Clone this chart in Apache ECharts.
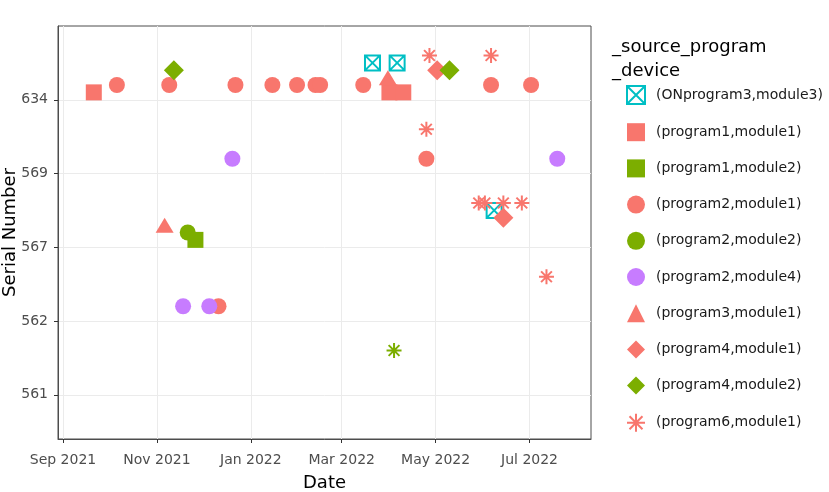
<!DOCTYPE html>
<html>
<head>
<meta charset="utf-8">
<script src="https://cdn.jsdelivr.net/npm/echarts@6/dist/echarts.min.js"></script>
<style>html,body{margin:0;padding:0;background:#fff;}#c{width:829px;height:492px;}</style>
</head>
<body>
<div id="c"></div>
<script>
// ---- data ----
const yTickValues = [0, 1, 2, 3, 4];
const yTickLabels = ['561', '562', '567', '569', '634'];
const xTickDates = ['2021-09-01', '2021-11-01', '2022-01-01', '2022-03-01', '2022-05-01', '2022-07-01'];
const xTickLabels = ['Sep 2021', 'Nov 2021', 'Jan 2022', 'Mar 2022', 'May 2022', 'Jul 2022'];

const seriesNames = [
  '(ONprogram3,module3)', '(program1,module1)', '(program1,module2)', '(program2,module1)',
  '(program2,module2)', '(program2,module4)', '(program3,module1)', '(program4,module1)',
  '(program4,module2)', '(program6,module1)', '(program6,module2)'
];

const onprogram3Module3 = [['2022-03-21', 4.5], ['2022-04-06', 4.5], ['2022-06-08', 2.5]];
const program1Module1 = [['2021-09-21', 4.1], ['2022-04-01', 4.1], ['2022-04-10', 4.1]];
const program1Module2 = [['2021-11-26', 2.1]];
const program2Module1 = [
  ['2021-10-06', 4.2], ['2021-11-09', 4.2], ['2021-12-22', 4.2], ['2022-01-15', 4.2],
  ['2022-01-31', 4.2], ['2022-02-12', 4.2], ['2022-02-15', 4.2], ['2022-03-15', 4.2],
  ['2022-06-06', 4.2], ['2022-07-02', 4.2], ['2022-04-25', 3.2], ['2021-12-11', 1.2]
];
const program2Module2 = [['2021-11-21', 2.2]];
const program2Module4 = [['2021-12-20', 3.2], ['2022-07-19', 3.2], ['2021-11-18', 1.2], ['2021-12-05', 1.2]];
const program3Module1 = [['2022-03-31', 4.3], ['2021-11-06', 2.3]];
const program4Module1 = [['2022-05-02', 4.4], ['2022-06-14', 2.4]];
const program4Module2 = [['2021-11-12', 4.4], ['2022-05-10', 4.4]];
const program6Module1 = [
  ['2022-04-27', 4.6], ['2022-06-06', 4.6], ['2022-04-25', 3.6], ['2022-05-29', 2.6],
  ['2022-06-02', 2.6], ['2022-06-14', 2.6], ['2022-06-26', 2.6], ['2022-07-12', 1.6]
];
const program6Module2 = [['2022-04-04', 0.6]];
const xRange = ['2021-08-28T18:00:00Z', '2022-08-09T22:00:00Z'];

// ---- helpers ----
function ts(s) { return new Date(s).getTime(); }
function toXY(arr) { return arr.map(function (p) { return [ts(p[0]), p[1]]; }); }
const xTickTs = xTickDates.map(ts);

// ---- styles ----
const SALMON = '#F8766D', GREEN = '#7CAE00', TEAL = '#00BFC4', PURPLE = '#C77CFF';
const xSquare = 'path://M-1,-1L1,-1L1,1L-1,1Z M-1,-1L1,1 M-1,1L1,-1';
const asterisk = 'path://M0,-1L0,1 M-1,0L1,0 M-0.72,-0.72L0.72,0.72 M-0.72,0.72L0.72,-0.72';

function mk(name, data, symbol, size, color, stroke) {
  return {
    name: name, type: 'scatter', data: toXY(data), symbol: symbol, symbolSize: size,
    symbolKeepAspect: true,
    itemStyle: stroke
      ? { color: 'rgba(0,0,0,0)', borderColor: color, borderWidth: stroke, opacity: 1 }
      : { color: color, opacity: 1 },
    emphasis: { disabled: true }
  };
}

const series = [
  mk(seriesNames[0], onprogram3Module3, xSquare, 15, TEAL, 2),
  mk(seriesNames[1], program1Module1, 'rect', 16, SALMON),
  mk(seriesNames[2], program1Module2, 'rect', 16, GREEN),
  mk(seriesNames[3], program2Module1, 'circle', 16, SALMON),
  mk(seriesNames[4], program2Module2, 'circle', 16, GREEN),
  mk(seriesNames[5], program2Module4, 'circle', 16, PURPLE),
  mk(seriesNames[6], program3Module1, 'triangle', [18, 15], SALMON),
  mk(seriesNames[7], program4Module1, 'diamond', 20, SALMON),
  mk(seriesNames[8], program4Module2, 'diamond', 20, GREEN),
  mk(seriesNames[9], program6Module1, asterisk, 15, SALMON, 2),
  mk(seriesNames[10], program6Module2, asterisk, 15, GREEN, 2)
];

const FONT = 'DejaVu Sans';
const chart = echarts.init(document.getElementById('c'), null, { renderer: 'canvas' });
chart.setOption({
  animation: false,
  backgroundColor: '#ffffff',
  textStyle: { fontFamily: FONT },
  title: {
    text: '_source_program\n_device', left: 607, top: 30,
    textStyle: { fontFamily: FONT, fontSize: 18, fontWeight: 'normal', color: '#000', lineHeight: 24 }
  },
  legend: {
    data: seriesNames.slice(0, 10), orient: 'vertical', left: 621, top: 80,
    itemWidth: 18, itemHeight: 18, itemGap: 18.2, selectedMode: false,
    textStyle: { fontFamily: FONT, fontSize: 14, color: '#1a1a1a', padding: [0, 0, 0, 6] }
  },
  grid: {
    left: 58, top: 26, width: 533, height: 413, show: true,
    borderColor: '#4d4d4d', borderWidth: 1, backgroundColor: '#fff',
    containLabel: false, outerBoundsMode: 'none'
  },
  xAxis: {
    type: 'value', min: ts(xRange[0]), max: ts(xRange[1]),
    name: 'Date', nameLocation: 'middle', nameGap: 35, nameMoveOverlap: false,
    nameTextStyle: { fontFamily: FONT, fontSize: 18, color: '#000' },
    axisLine: { show: true, onZero: false, lineStyle: { color: '#4d4d4d', width: 1 } },
    axisTick: { show: true, length: 4, lineStyle: { color: '#333' }, customValues: xTickTs },
    axisLabel: {
      customValues: xTickTs, margin: 14, fontFamily: FONT, fontSize: 14, color: '#4d4d4d',
      formatter: function (v) {
        for (let i = 0; i < xTickTs.length; i++) {
          if (Math.abs(xTickTs[i] - v) < 86400000) return xTickLabels[i];
        }
        return '';
      }
    },
    splitLine: { show: true, lineStyle: { color: '#EBEBEB', width: 1 } }
  },
  yAxis: {
    type: 'value', min: -0.6, max: 5.0,
    name: 'Serial Number', nameLocation: 'middle', nameGap: 39, nameMoveOverlap: false,
    nameTextStyle: { fontFamily: FONT, fontSize: 18, color: '#000' },
    axisLine: { show: true, onZero: false, lineStyle: { color: '#4d4d4d', width: 1 } },
    axisTick: { show: true, length: 4, lineStyle: { color: '#333' }, customValues: yTickValues },
    axisLabel: {
      customValues: yTickValues, margin: 10, fontFamily: FONT, fontSize: 14, color: '#4d4d4d',
      formatter: function (v) {
        const i = yTickValues.indexOf(Math.round(v));
        return i >= 0 ? yTickLabels[i] : '';
      }
    },
    splitLine: { show: true, lineStyle: { color: '#EBEBEB', width: 1 } }
  },
  series: series
});
</script>
</body>
</html>
